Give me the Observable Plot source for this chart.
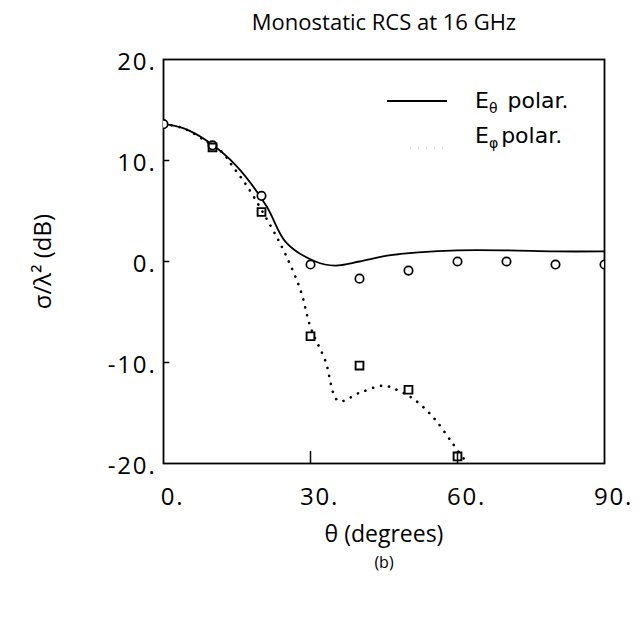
<!DOCTYPE html>
<html><head><meta charset="utf-8">
<script src="https://cdn.jsdelivr.net/npm/d3@7"></script>
<script src="https://cdn.jsdelivr.net/npm/@observablehq/plot@0.6"></script>
<style>
body{margin:0;background:#fff}
#wrap{position:relative;width:642px;height:621px}
.leg{position:absolute;font-family:"DejaVu Sans",sans-serif;font-size:22px;color:#000;line-height:1;white-space:nowrap}
.leg sub{font-size:14px;vertical-align:-5px;margin-right:3px}
g[aria-label="x-axis tick label"] text, g[aria-label="y-axis tick label"] text{letter-spacing:1.8px}
g[aria-label="title"] text{letter-spacing:1.6px}
g[aria-label="x-label"] text, g[aria-label="y-label"] text{letter-spacing:1px}
g[aria-label="panel"] text{letter-spacing:2px}
</style>
</head><body><div id="wrap"></div>
<script>
// E-theta polarization, theory (solid line)
const thetaLineDeg = [0, 4, 9, 15, 21, 25, 31, 35, 40, 46, 52, 60, 70, 80, 90];
const thetaLineDb  = [13.6, 13.2, 11.9, 9.4, 5.5, 1.9, 0.0, -0.4, 0.0, 0.6, 0.9, 1.1, 1.1, 1.0, 1.0];
// E-phi polarization, theory (dotted line)
const phiLineDeg = [0, 4, 9, 12, 14, 17, 22, 25, 28, 30, 33, 35.7, 40, 45, 48, 51, 55, 59, 62];
const phiLineDb  = [13.6, 13.2, 11.8, 10.8, 9.5, 7.5, 3.4, 0.6, -2.9, -6.5, -9.8, -13.8, -13.0, -12.3, -12.8, -13.6, -15.4, -18.0, -20.0];
// measured E-theta (circles)
const thetaMeasDeg = [0, 10, 20, 30, 40, 50, 60, 70, 80, 90];
const thetaMeasDb  = [13.6, 11.5, 6.5, -0.3, -1.7, -0.9, 0.0, 0.0, -0.3, -0.3];
// measured E-phi (squares)
const phiMeasDeg = [10, 20, 30, 40, 50, 60];
const phiMeasDb  = [11.3, 4.9, -7.4, -10.3, -12.7, -19.3];
// ticks
const xTicks = [0, 30, 60, 90];
const yTicks = [-20, -10, 0, 10, 20];
const xInnerTicks = [30, 60];
const yInnerTicks = [-10, 0, 10];

const title = "Monostatic RCS at 16 GHz";
const xLabel = "θ (degrees)";
const yLabel = "σ/λ² (dB)";
const panel = "(b)";

const zip = (xs, ys) => xs.map((x, i) => ({x, y: ys[i]}));
const thetaLine = zip(thetaLineDeg, thetaLineDb);
const phiLine = zip(phiLineDeg, phiLineDb);
const thetaMeas = zip(thetaMeasDeg, thetaMeasDb);
const phiMeas = zip(phiMeasDeg, phiMeasDb);

const serif = "'Open Sans', Lato, sans-serif";

const chart = Plot.plot({
  width: 642, height: 621,
  marginLeft: 163, marginRight: 38, marginTop: 59, marginBottom: 158,
  style: {background: "#fff", color: "#000", fontFamily: serif},
  x: {domain: [0, 90]},
  y: {domain: [-20, 20]},
  marks: [
    Plot.axisY({ticks: yTicks, tickFormat: d => `${d}.`, tickSize: 0, tickPadding: 7, fontSize: 24, label: null, dy: 3}),
    Plot.axisX({ticks: xTicks, tickFormat: d => `${d}.`, tickSize: 0, tickPadding: 24, fontSize: 24, label: null, dx: 9}),
    Plot.ruleY(yInnerTicks, {x1: 0, x2: 1.3, stroke: "#000", strokeWidth: 1.5}),
    Plot.ruleX(xInnerTicks, {y1: -20, y2: -18.8, stroke: "#000", strokeWidth: 1.5}),
    Plot.frame({stroke: "#000", strokeWidth: 1.8}),
    Plot.line(phiLine, {x: "x", y: "y", curve: "catmull-rom", stroke: "#000", strokeWidth: 2.6, strokeDasharray: "0.1,8", strokeLinecap: "round", clip: true}),
    Plot.line(thetaLine, {x: "x", y: "y", curve: "catmull-rom", stroke: "#000", strokeWidth: 1.8, clip: true}),
    Plot.dot(thetaMeas, {x: "x", y: "y", r: 4.2, stroke: "#000", strokeWidth: 1.7, fill: "#fff", clip: true}),
    Plot.dot(phiMeas, {x: "x", y: "y", symbol: "square", r: 4.4, stroke: "#000", strokeWidth: 1.9, fill: "none", clip: true}),
    Plot.text([title], {frameAnchor: "top", dy: -37, fontSize: 22, lineAnchor: "middle", textAnchor: "middle", ariaLabel: "title"}),
    Plot.text([xLabel], {frameAnchor: "bottom", dy: 71, fontSize: 23, lineAnchor: "middle", textAnchor: "middle", ariaLabel: "x-label"}),
    Plot.text([panel], {frameAnchor: "bottom", dy: 99, fontSize: 16, lineAnchor: "middle", textAnchor: "middle", ariaLabel: "panel"}),
    Plot.text([yLabel], {frameAnchor: "left", dx: -120, rotate: -90, fontSize: 24, lineAnchor: "middle", textAnchor: "middle", ariaLabel: "y-label"})
  ]
});

const wrap = document.getElementById("wrap");
wrap.appendChild(chart);

const legend = [
  {label: "θ", top: 90, dash: null},
  {label: "φ", top: 125, dash: "1,7"}
];
legend.forEach(l => {
  const s = document.createElementNS("http://www.w3.org/2000/svg", "svg");
  s.setAttribute("width", 64); s.setAttribute("height", 26);
  s.style.position = "absolute"; s.style.left = "385px"; s.style.top = (l.top + 1) + "px";
  const ln = document.createElementNS("http://www.w3.org/2000/svg", "line");
  ln.setAttribute("x1", l.dash ? 25 : 2); ln.setAttribute("x2", 62);
  ln.setAttribute("y1", l.dash ? 22 : 10); ln.setAttribute("y2", l.dash ? 22 : 10);
  ln.setAttribute("stroke", l.dash ? "#ccc" : "#000");
  ln.setAttribute("stroke-width", l.dash ? 1.5 : 1.8);
  if (l.dash) ln.setAttribute("stroke-dasharray", l.dash);
  s.appendChild(ln);
  wrap.appendChild(s);
  const d = document.createElement("div");
  d.className = "leg";
  d.style.left = "475px"; d.style.top = l.top + "px";
  d.innerHTML = `E<sub>${l.label}</sub>${l.label === "θ" ? "&nbsp;" : ""}polar.`;
  wrap.appendChild(d);
});
</script>
</body></html>
